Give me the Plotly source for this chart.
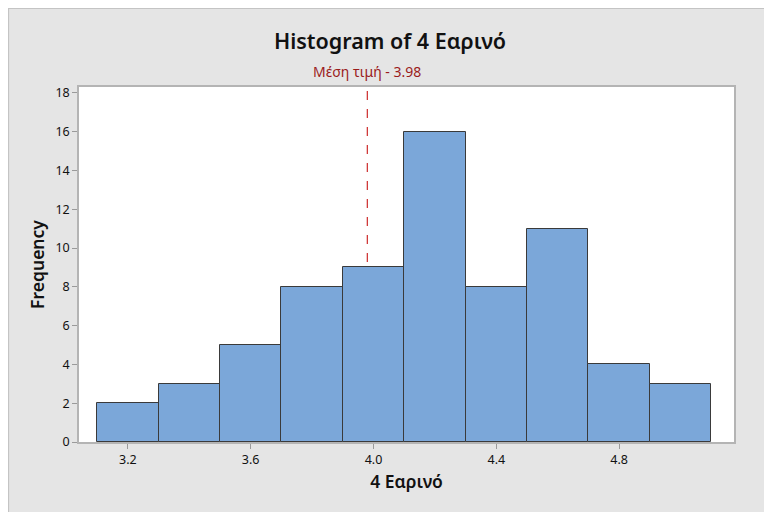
import plotly.graph_objects as go

bin_centers = [3.2, 3.4, 3.6, 3.8, 4.0, 4.2, 4.4, 4.6, 4.8, 5.0]
frequencies = [2, 3, 5, 8, 9, 16, 8, 11, 4, 3]
bin_width = 0.2
mean_value = 3.98
x_ticks = [3.2, 3.6, 4.0, 4.4, 4.8]
y_ticks = [0, 2, 4, 6, 8, 10, 12, 14, 16, 18]

W, H = 764, 504
ML, MR, MT, MB = 71, 38, 79, 70

fig = go.Figure()
fig.add_trace(go.Bar(
    x=bin_centers, y=frequencies, width=bin_width,
    marker=dict(color="#7ba7d9", line=dict(color="#3a3a3a", width=1)),
    hoverinfo="x+y",
))

# mean line (behind bars)
fig.add_shape(type="line", xref="x", yref="paper", x0=mean_value, x1=mean_value,
              y0=0, y1=1, layer="below",
              line=dict(color="#d03a3a", width=1.3, dash="dash"))
fig.add_annotation(xref="x", yref="paper", x=mean_value, y=1, yshift=4,
                   yanchor="bottom", showarrow=False,
                   text="Μέση τιμή - 3.98",
                   font=dict(family="Noto Sans", size=14, color="#9b1c1c"))

# frame border of the gray panel
pw = W - ML - MR
ph = H - MT - MB
def px_x(p):
    return (p - ML) / pw
def px_y(p):
    return (H - MB - p) / ph
fig.add_shape(type="rect", xref="paper", yref="paper", x0=px_x(0.5), x1=px_x(W - 0.7),
              y0=px_y(H + 2), y1=px_y(0.5), fillcolor="rgba(0,0,0,0)",
              line=dict(color="#c4c4c4", width=1.2), layer="above")

axis_font = dict(family="Noto Sans", size=12.5, color="#111111")
fig.update_layout(
    width=W, height=H,
    margin=dict(l=ML, r=MR, t=MT, b=MB, pad=0),
    paper_bgcolor="#e5e5e5",
    plot_bgcolor="white",
    showlegend=False,
    bargap=0,
    title=dict(text="Histogram of 4 Εαρινό", x=0.5, xanchor="center",
               y=1 - 33 / H, yanchor="middle",
               font=dict(family="Noto Sans", size=21.5, color="#111111", weight=600)),
    xaxis=dict(range=[3.041, 5.174], tickvals=x_ticks, tickformat=".1f",
               ticks="outside", ticklen=5, tickcolor="#9a9a9a", tickwidth=1,
               showline=True, linecolor="#b4b4b4", linewidth=1.5, mirror=True,
               showgrid=False, zeroline=False, tickfont=axis_font,
               title=dict(text="4 Εαρινό", standoff=9,
                          font=dict(family="Noto Sans", size=17.5, color="#111111", weight=600))),
    yaxis=dict(range=[0, 18.3], tickvals=y_ticks,
               ticks="outside", ticklen=5, tickcolor="#9a9a9a", tickwidth=1,
               showline=True, linecolor="#b4b4b4", linewidth=1.5, mirror=True,
               showgrid=False, zeroline=False, tickfont=axis_font,
               title=dict(text="Frequency", standoff=6,
                          font=dict(family="Noto Sans", size=17.5, color="#111111", weight=600))),
)

fig.write_html("out.html")
